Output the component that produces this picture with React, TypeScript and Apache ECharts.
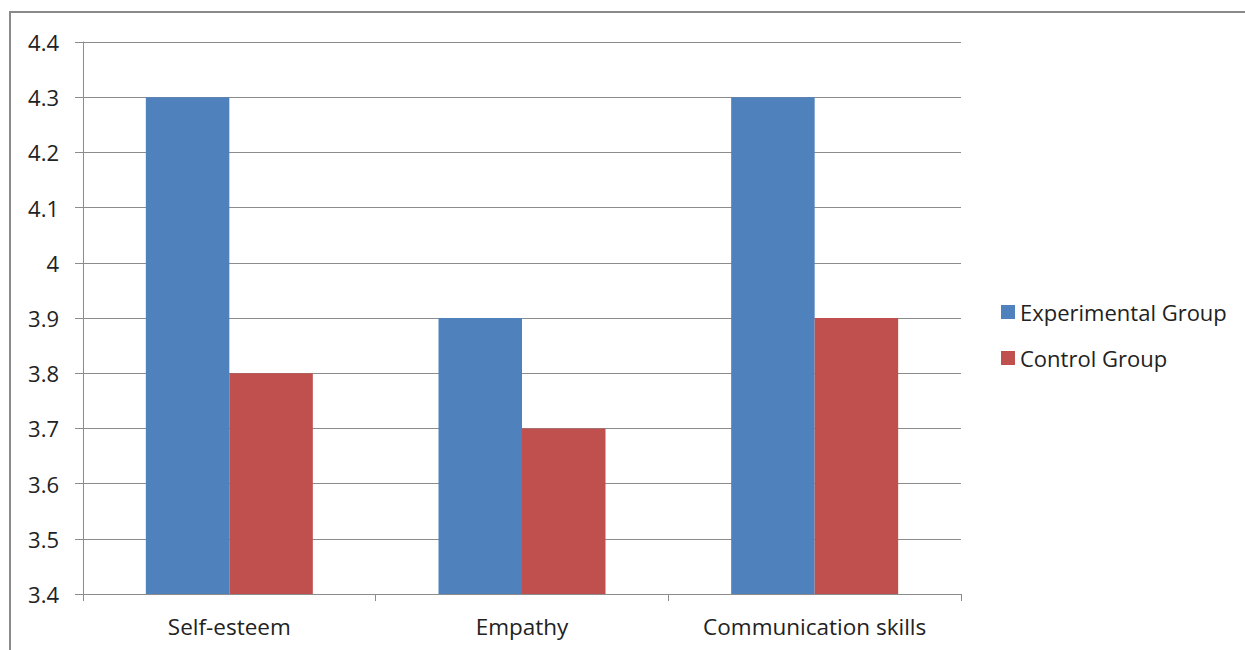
import React, { useEffect, useRef } from "react";
import * as echarts from "echarts";

const categories = ["Self-esteem", "Empathy", "Communication skills"];
const experimental = [4.3, 3.9, 4.3];
const control = [3.8, 3.7, 3.9];
const seriesNames = ["Experimental Group", "Control Group"];

const FONT = "'Open Sans', 'Liberation Sans', sans-serif";

export default function App() {
  const ref = useRef<HTMLDivElement>(null);
  useEffect(() => {
    if (!ref.current) return;
    const chart = echarts.init(ref.current, null, { renderer: "svg" });
    chart.setOption({
      animation: false,
      backgroundColor: "#ffffff",
      textStyle: { fontFamily: FONT },
      graphic: [
        {
          type: "rect",
          shape: { x: 10, y: 12, width: 1400, height: 800 },
          style: { fill: "none", stroke: "#8a8a8a", lineWidth: 2 },
          silent: true,
        },
      ],
      legend: {
        orient: "vertical",
        left: 1001,
        top: 301,
        padding: 0,
        itemWidth: 14,
        itemHeight: 14,
        itemGap: 24,
        icon: "rect",
        textStyle: { fontSize: 22, lineHeight: 22, color: "#222", fontFamily: FONT },
        data: seriesNames,
      },
      grid: { left: 83, right: 284, top: 42, bottom: 56, containLabel: false },
      xAxis: {
        type: "category",
        data: categories,
        axisLine: { lineStyle: { color: "#8c8c8c", width: 1 } },
        axisTick: { show: true, length: 7, lineStyle: { color: "#8c8c8c" } },
        axisLabel: { fontSize: 22.5, color: "#222", margin: 21, fontFamily: FONT },
      },
      yAxis: {
        type: "value",
        min: 3.4,
        max: 4.4,
        interval: 0.1,
        axisLine: { show: true, lineStyle: { color: "#8c8c8c", width: 1 } },
        axisTick: { show: true, length: 8, lineStyle: { color: "#8c8c8c" } },
        splitLine: { show: true, lineStyle: { color: "#8c8c8c", width: 1 } },
        axisLabel: {
          fontSize: 22,
          color: "#222",
          margin: 24,
          fontFamily: FONT,
          formatter: (v: number) => String(Math.round(v * 10) / 10),
        },
      },
      series: [
        {
          name: seriesNames[0],
          type: "bar",
          data: experimental,
          itemStyle: { color: "#4F81BD" },
          barWidth: 83.5,
          barGap: "0%",
        },
        {
          name: seriesNames[1],
          type: "bar",
          data: control,
          itemStyle: { color: "#C0504D" },
          barWidth: 83.5,
          barGap: "0%",
        },
      ],
    });
    return () => chart.dispose();
  }, []);
  return (
    <div
      ref={ref}
      style={{ position: "absolute", left: 0, top: 0, width: 1245, height: 650 }}
    />
  );
}
